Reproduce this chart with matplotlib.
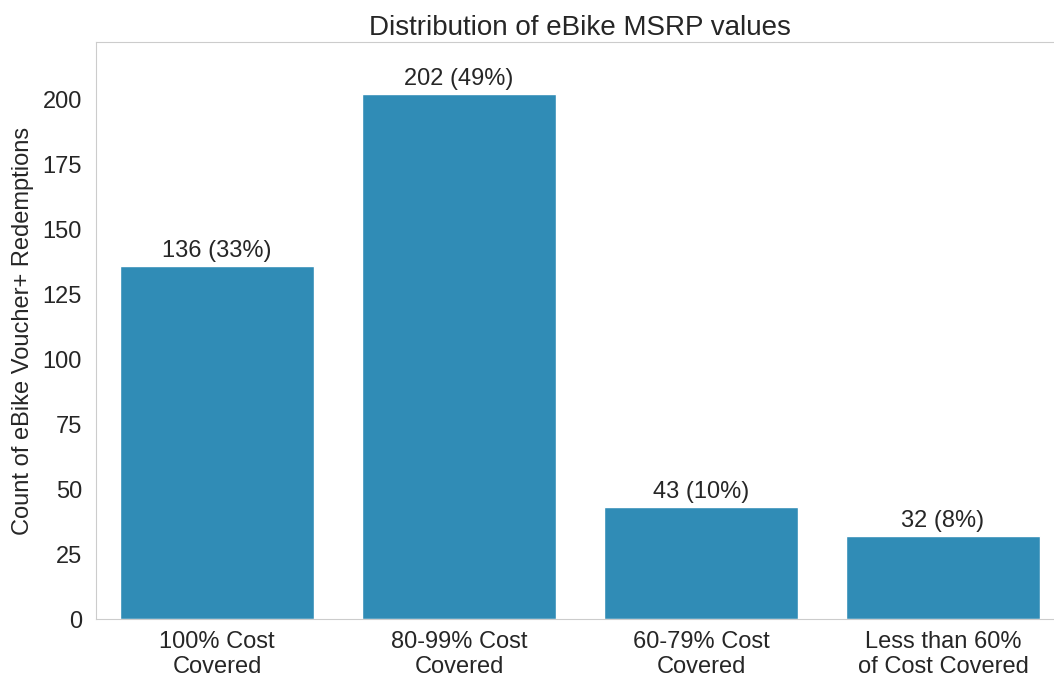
import numpy as np
import matplotlib.pyplot as plt
import seaborn as sns

categories = ["100% Cost\nCovered", "80-99% Cost\nCovered", "60-79% Cost\nCovered", "Less than 60%\nof Cost Covered"]
counts = [136, 202, 43, 32]
pcts = [33, 49, 10, 8]

sns.set_style("whitegrid")
plt.rcParams['font.family'] = ['Liberation Sans', 'DejaVu Sans']

fig = plt.figure(figsize=(10.54, 6.79), dpi=100)
W, H = 1054, 679
ax = fig.add_axes([96 / W, 1 - 619 / H, 968 / W, 577 / H])

x = np.arange(len(categories))
bars = ax.bar(x, counts, width=0.8, color="#308cb6")

for b, c, p in zip(bars, counts, pcts):
    ax.annotate(f"{c} ({p}%)", (b.get_x() + b.get_width() / 2, b.get_height()),
                xytext=(0, 3), textcoords="offset points",
                ha="center", va="bottom", fontsize=17, color="#262626")

ax.set_xlim(-0.5, 3.5)
ax.set_ylim(0, 222.2)
ax.set_xticks(x)
ax.set_xticklabels(categories, fontsize=17)
ax.tick_params(axis="x", pad=5)
ax.tick_params(axis="y", labelsize=17, pad=6.5)
ax.set_yticks(np.arange(0, 201, 25))
ax.grid(False)
ax.set_ylabel("Count of eBike Voucher+ Redemptions", fontsize=17, labelpad=6)
ax.set_title("Distribution of eBike MSRP values", fontsize=20, pad=5)

fig.savefig("out.png", dpi=100)
